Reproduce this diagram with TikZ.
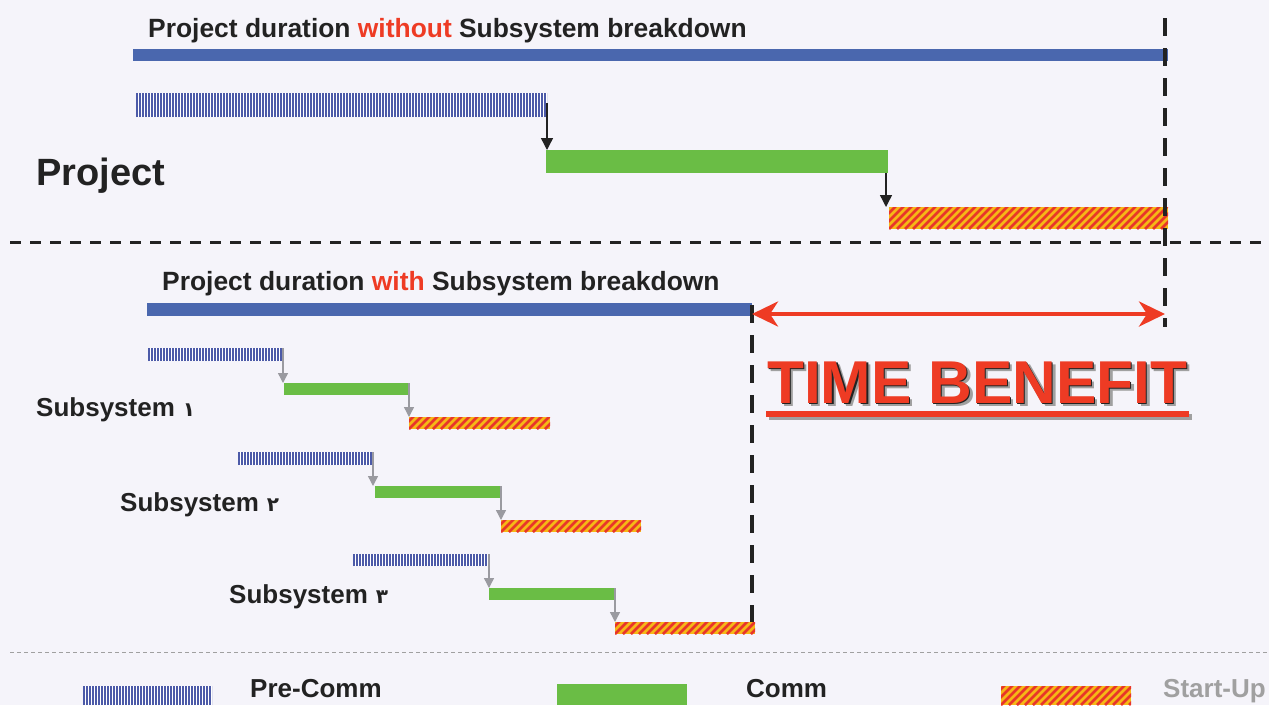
\documentclass[tikz,border=0pt]{standalone}
\usepackage{fontspec}
\setmainfont{Liberation Sans}
\newfontfamily\digfont{DejaVu Sans}
\usetikzlibrary{arrows.meta}
\definecolor{bg}{HTML}{F5F4FA}
\definecolor{barblue}{HTML}{4A67AE}
\definecolor{pcblue}{HTML}{4C5AA8}
\definecolor{cgreen}{HTML}{6ABD45}
\definecolor{suyellow}{HTML}{F5B816}
\definecolor{sured}{HTML}{E8352A}
\definecolor{tred}{HTML}{EE3B24}
\definecolor{tblack}{HTML}{222222}
\definecolor{agray}{HTML}{9A9AA0}
\definecolor{lgray}{HTML}{A0A0A0}
\begin{document}
\begin{tikzpicture}[x=1pt,y=-1pt,
  bar/.style={inner sep=0pt, outer sep=0pt, anchor=north west, draw=none},
  mainbar/.style={bar, fill=barblue},
  commbar/.style={bar, fill=cgreen},
  precomm/.style={bar, fill=white, path picture={
      \foreach \i in {0,...,140}
        \draw[pcblue, line width=2pt]
          ([xshift={\i*3pt+1pt}]path picture bounding box.south west) --
          ([xshift={\i*3pt+1pt}]path picture bounding box.north west);}},
  startup/.style={bar, fill=suyellow, path picture={
      \foreach \i in {-5,...,40}
        \draw[sured, line width=2.6pt]
          ([xshift={\i*8pt}]path picture bounding box.south west) -- ++(30pt,30pt);}},
  ttl/.style={anchor=base west, inner sep=0pt, text=tblack, font=\fontsize{26.4}{30}\selectfont\bfseries},
  sublbl/.style={anchor=base west, inner sep=0pt, text=tblack, font=\fontsize{26}{30}\selectfont\bfseries},
  bigdash/.style={draw=tblack, line width=3.5pt, dash pattern=on 18pt off 12pt},
  hdash/.style={draw=tblack, line width=3pt, dash pattern=on 11pt off 9pt},
  thindash/.style={draw=lgray, line width=1pt, dash pattern=on 4pt off 3pt},
  barrow/.style={draw=tblack, line width=1.4pt, -{Triangle[length=12pt,width=12pt]}},
  garrow/.style={draw=agray, line width=1.4pt, -{Triangle[length=10pt,width=10pt]}},
  benarrow/.style={draw=tred, line width=4pt, {Stealth[length=26pt,width=25pt,inset=8pt]}-{Stealth[length=26pt,width=25pt,inset=8pt]}},
  tb/.style={anchor=base west, inner sep=0pt, font=\fontsize{60.5}{66}\selectfont\bfseries}
]
\useasboundingbox (0,0) rectangle (1269,705);
\fill[bg] (0,0) rectangle (1269,705);

% ---------- top section ----------
\node[ttl] (t1) at (148,37) {Project duration \textcolor{tred}{without} Subsystem breakdown};
\node[mainbar, minimum width=1035pt, minimum height=12pt] (b1) at (133,49) {};
\node[precomm, minimum width=411pt, minimum height=24pt] (p0) at (136,93) {};
\node[commbar, minimum width=342pt, minimum height=23pt] (c0) at (546,150) {};
\node[startup, minimum width=279pt, minimum height=22pt] (s0) at (889,207) {};
\draw[barrow] ([yshift=-10pt]p0.north east) -- (p0.north east |- c0.north);
\draw[barrow] ([xshift=-2pt]c0.south east) -- ([xshift=-2pt]c0.south east |- s0.north);
\node[anchor=base west, inner sep=0pt, text=tblack, font=\fontsize{38}{44}\selectfont\bfseries] (proj) at (36,185) {Project};

\coordinate (vt1) at (1165,18);
\coordinate (vt2) at (1165,327);
\draw[bigdash] (vt1) -- (vt2);
\coordinate (hd1) at (10,242);
\coordinate (hd2) at (1280,242);
\draw[hdash] (hd1) -- (hd2);

% ---------- bottom section ----------
\node[ttl] (t2) at (162,290) {Project duration \textcolor{tred}{with} Subsystem breakdown};
\node[mainbar, minimum width=605pt, minimum height=13pt] (b2) at (147,303) {};
\coordinate (vl1) at (752,305);
\coordinate (vl2) at (752,634);
\draw[bigdash] (vl1) -- (vl2);
\coordinate (benL) at (752,314);
\coordinate (benR) at (1165,314);
\draw[benarrow] (benL) -- (benR);

% TIME BENEFIT with shadow
\fill[lgray] (769,414) rectangle (1192,420);
\fill[tred] (766,411) rectangle (1189,417);
\node[tb, text=lgray] at (770.5,406.5) {TIME BENEFIT};
\node[tb, text=tblack] at (768.3,404.3) {TIME BENEFIT};
\node[tb, text=tred] (tbn) at (767,403) {TIME BENEFIT};

% Subsystem 1
\node[precomm, minimum width=135pt, minimum height=13pt] (p1) at (148,348) {};
\node[commbar, minimum width=126pt, minimum height=12pt] (c1) at (284,383) {};
\node[startup, minimum width=141pt, minimum height=12pt] (s1) at (409,417) {};
\draw[garrow] (p1.north east) -- (p1.north east |- c1.north);
\draw[garrow] ([xshift=-1pt]c1.north east) -- ([xshift=-1pt]c1.north east |- s1.north);
\node[sublbl] (l1) at (36,416) {Subsystem\hspace{8pt}{\digfont\fontsize{20}{24}\selectfont ١}};

% Subsystem 2
\node[precomm, minimum width=135pt, minimum height=13pt] (p2) at (238,452) {};
\node[commbar, minimum width=126pt, minimum height=12pt] (c2) at (375,486) {};
\node[startup, minimum width=140pt, minimum height=12pt] (s2) at (501,520) {};
\draw[garrow] (p2.north east) -- (p2.north east |- c2.north);
\draw[garrow] (c2.north east) -- (c2.north east |- s2.north);
\node[sublbl] (l2) at (120,511) {Subsystem\hspace{8pt}{\digfont\fontsize{20}{24}\selectfont ٢}};

% Subsystem 3
\node[precomm, minimum width=136pt, minimum height=12pt] (p3) at (353,554) {};
\node[commbar, minimum width=126pt, minimum height=12pt] (c3) at (489,588) {};
\node[startup, minimum width=140pt, minimum height=12pt] (s3) at (615,622) {};
\draw[garrow] (p3.north east) -- (p3.north east |- c3.north);
\draw[garrow] (c3.north east) -- (c3.north east |- s3.north);
\node[sublbl] (l3) at (229,603) {Subsystem\hspace{8pt}{\digfont\fontsize{20}{24}\selectfont ٣}};

% ---------- legend ----------
\coordinate (ld1) at (10,652);
\coordinate (ld2) at (1275,652);
\draw[thindash] (ld1) -- (ld2);
\node[precomm, minimum width=129pt, minimum height=19pt] (lp) at (83,686) {};
\node[sublbl] (lpt) at (250,697) {Pre-Comm};
\node[commbar, minimum width=130pt, minimum height=21pt] (lc) at (557,684) {};
\node[sublbl] (lct) at (746,697) {Comm};
\node[startup, minimum width=130pt, minimum height=19pt] (ls) at (1001,686) {};
\node[sublbl, text=lgray] (lst) at (1163,697) {Start-Up};
\end{tikzpicture}
\end{document}
